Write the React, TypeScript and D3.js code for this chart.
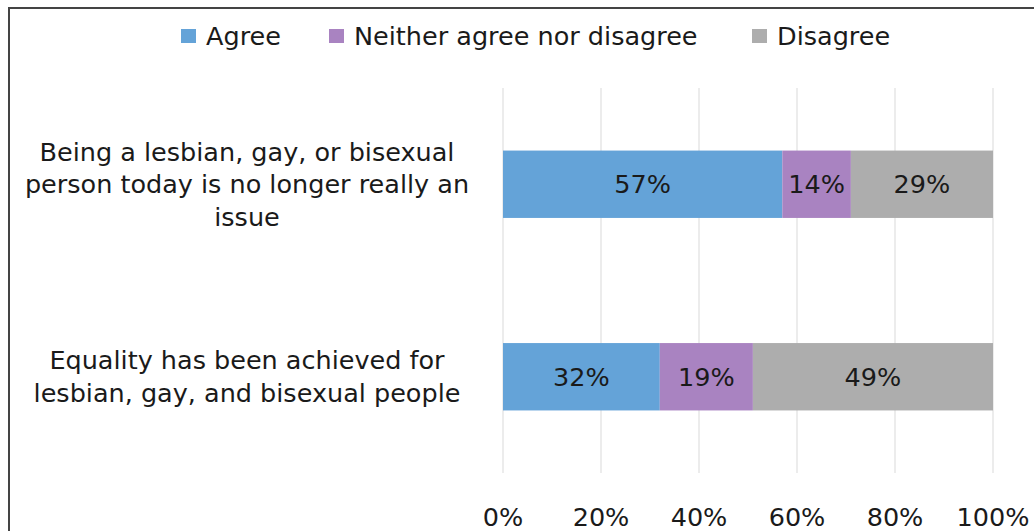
import React from "react";
import * as d3 from "d3";

const categories = [
  ["Being a lesbian, gay, or bisexual", "person today is no longer really an", "issue"],
  ["Equality has been achieved for", "lesbian, gay, and bisexual people"],
];
const seriesNames = ["Agree", "Neither agree nor disagree", "Disagree"];
const agree = [57, 32];
const neither = [14, 19];
const disagree = [29, 49];
const colors = ["#64A3D8", "#A983C1", "#ADADAD"];
const xTicks = [0, 20, 40, 60, 80, 100];

const W = 1034;
const H = 531;
const FONT = "'DejaVu Sans', sans-serif";
const FS = 25.5;

export default function App() {
  const x = d3.scaleLinear().domain([0, 100]).range([503, 993]);
  const y = d3.scaleBand<number>().domain([0, 1]).range([88, 473]).paddingInner(0).paddingOuter(0);
  const barH = y.bandwidth() * 0.35;

  const rows = categories.map((_, i) => ({ i, agree: agree[i], neither: neither[i], disagree: disagree[i] }));
  const stack = d3.stack<any>().keys(["agree", "neither", "disagree"]);
  const layers = stack(rows);

  const legendX = [181, 329, 752];

  return (
    <svg width={W} height={H} style={{ position: "absolute", left: 0, top: 0, fontFamily: FONT }}>
      <rect x={0} y={0} width={W} height={H} fill="#fff" />
      <path d={`M9,${H} V8 H${W}`} fill="none" stroke="#444" strokeWidth={2} />
      {/* gridlines */}
      {xTicks.map((t) => (
        <line key={t} x1={x(t)} x2={x(t)} y1={88} y2={473} stroke="#d9d9d9" strokeWidth={1} />
      ))}
      {/* bars */}
      {layers.map((layer, li) =>
        layer.map((d, i) => {
          const yc = (y(i) as number) + y.bandwidth() / 2;
          const x0 = x(d[0]);
          const x1 = x(d[1]);
          const v = d[1] - d[0];
          return (
            <g key={`${li}-${i}`}>
              <rect x={x0} y={yc - barH / 2} width={x1 - x0} height={barH} fill={colors[li]} />
              <text x={(x0 + x1) / 2} y={yc} dy="0.35em" textAnchor="middle" fontSize={FS} fill="#1a1a1a">
                {v}%
              </text>
            </g>
          );
        })
      )}
      {/* category labels */}
      {categories.map((lines, i) => {
        const yc = (y(i) as number) + y.bandwidth() / 2;
        const lh = 32.5;
        const start = yc - ((lines.length - 1) * lh) / 2;
        return lines.map((ln, j) => (
          <text key={`${i}-${j}`} x={247} y={start + j * lh} dy="0.35em" textAnchor="middle" fontSize={FS} fill="#1a1a1a">
            {ln}
          </text>
        ));
      })}
      {/* x tick labels */}
      {xTicks.map((t) => (
        <text key={t} x={x(t)} y={517} dy="0.35em" textAnchor="middle" fontSize={FS} fill="#1a1a1a">
          {t}%
        </text>
      ))}
      {/* legend */}
      {seriesNames.map((s, i) => (
        <g key={s}>
          <rect x={legendX[i]} y={29} width={15} height={14} fill={colors[i]} />
          <text x={legendX[i] + 25} y={36} dy="0.35em" fontSize={FS} fill="#1a1a1a">
            {s}
          </text>
        </g>
      ))}
    </svg>
  );
}
